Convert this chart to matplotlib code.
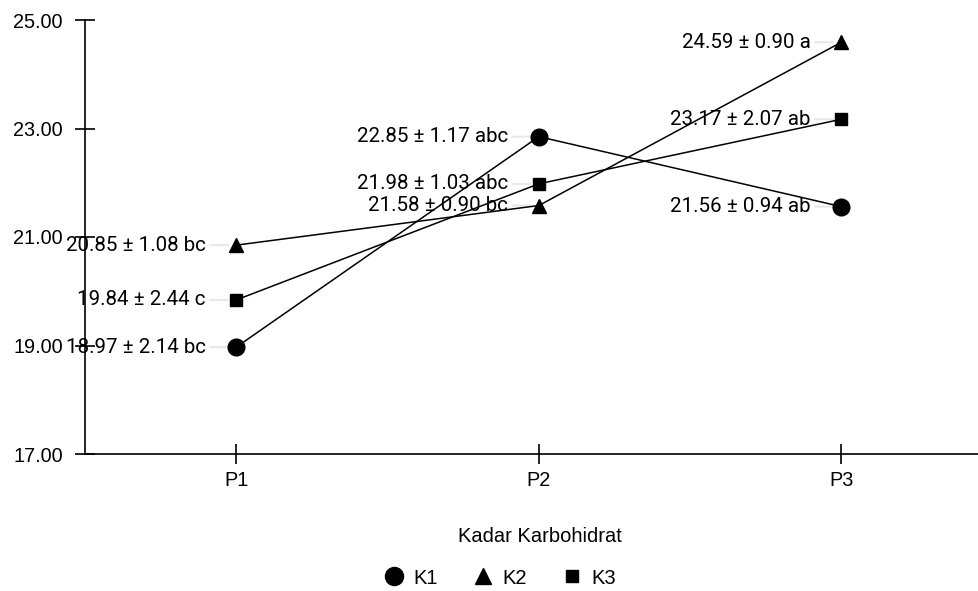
import numpy as np
import matplotlib.pyplot as plt

perlakuan = ['P1', 'P2', 'P3']
k1 = [18.97, 22.85, 21.56]
k2 = [20.85, 21.58, 24.59]
k3 = [19.84, 21.98, 23.17]
label_k1 = ['18.97 ± 2.14 bc', '22.85 ± 1.17 abc', '21.56 ± 0.94 ab']
label_k2 = ['20.85 ± 1.08 bc', '21.58 ± 0.90 bc', '24.59 ± 0.90 a']
label_k3 = ['19.84 ± 2.44 c', '21.98 ± 1.03 abc', '23.17 ± 2.07 ab']
y_ticks = [17, 19, 21, 23, 25]

W, H = 979, 591
fig = plt.figure(figsize=(W / 100, H / 100), dpi=100)
ax = fig.add_axes([85 / W, 1 - 454 / H, 894 / W, 434 / H])

x = np.arange(len(perlakuan))
series = [
    (k1, label_k1, 'o', 12, 'K1'),
    (k2, label_k2, '^', 10, 'K2'),
    (k3, label_k3, 's', 8, 'K3'),
]
for vals, labs, mk, ms, name in series:
    ax.plot(x, vals, color='black', lw=1.1, marker=mk, ms=ms, label=name, zorder=3)
    for xi, v, t in zip(x, vals, labs):
        ax.annotate(t, xy=(xi, v), xytext=(-22, 0), textcoords='offset points',
                    ha='right', va='center', fontsize=14.8, family='Roboto',
                    arrowprops=dict(arrowstyle='-', color='#e8e8e8', lw=1.5,
                                    shrinkA=1, shrinkB=6),
                    zorder=1)

ax.set_xlim(-0.5, 2.455)
ax.set_ylim(17, 25)
ax.set_yticks(y_ticks)
ax.set_yticklabels(['%.2f' % v for v in y_ticks], family='Liberation Sans', fontsize=14.3)
ax.set_xticks(x)
ax.set_xticklabels(perlakuan, family='Liberation Sans', fontsize=14.3)
ax.tick_params(axis='y', direction='inout', length=15, width=1.2, pad=8.5)
ax.tick_params(axis='x', direction='inout', length=15, width=1.2, pad=5)
for s in ['top', 'right']:
    ax.spines[s].set_visible(False)
for s in ['left', 'bottom']:
    ax.spines[s].set_linewidth(1.2)

fig.text(540 / W, 1 - 536 / H, 'Kadar Karbohidrat', ha='center', va='center',
         family='Liberation Sans', fontsize=14.5)

handles = [plt.Line2D([], [], ls='none', marker=m, ms=s, color='black')
           for m, s in [('o', 13), ('^', 11), ('s', 9)]]
fig.legend(handles, [s[4] for s in series], loc='center', ncol=3, frameon=False,
           bbox_to_anchor=(499 / W, 1 - 578 / H), prop={'family': 'Liberation Sans', 'size': 14.5},
           handletextpad=0.4, columnspacing=1.6, handlelength=1.2)

fig.savefig('out.png', dpi=100)
